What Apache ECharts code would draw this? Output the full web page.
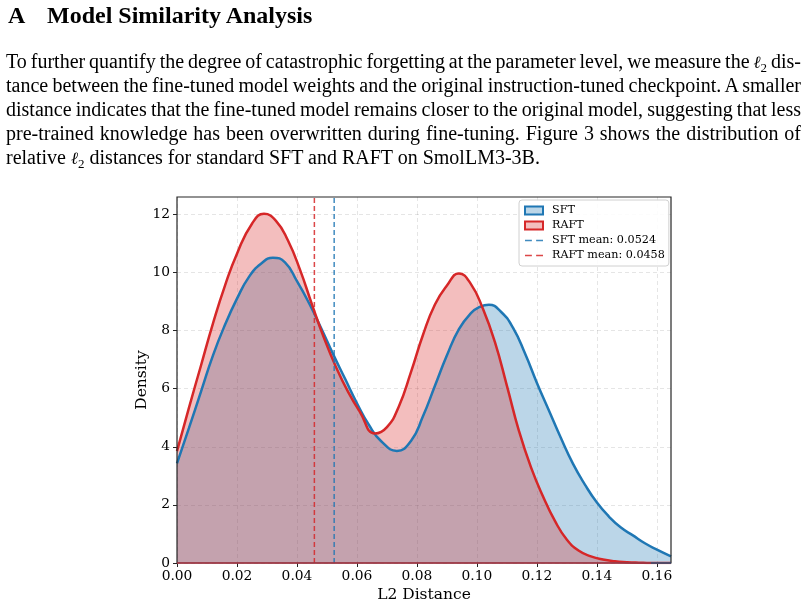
<!DOCTYPE html>
<html>
<head>
<meta charset="utf-8">
<script src="https://cdn.jsdelivr.net/npm/echarts@6/dist/echarts.min.js"></script>
<style>
  html, body { margin: 0; padding: 0; background: #fff; }
  #page { position: relative; width: 808px; height: 608px; overflow: hidden; }
  #chart { position: absolute; left: 0; top: 0; width: 808px; height: 608px; }
  .txt { position: absolute; font-family: "Liberation Serif", "Times New Roman", serif; color: #000; white-space: nowrap; }
  .head { font-size: 24px; font-weight: bold; line-height: 28px; top: 1px; }
  .line { left: 6px; font-size: 20px; line-height: 24px; }
  .ell { font-style: italic; font-family: "DejaVu Serif", serif; font-size: 17px; }
  sub { font-size: 13px; vertical-align: -4px; line-height: 0; }
</style>
</head>
<body>
<div id="page">
  <div id="chart"></div>
  <div class="txt head" style="left:8px;">A</div>
  <div class="txt head" style="left:47px;">Model Similarity Analysis</div>
  <div class="txt line just" style="top:49px;">To further quantify the degree of catastrophic forgetting at the parameter level, we measure the <span class="ell">ℓ</span><sub>2</sub> dis-</div>
  <div class="txt line just" style="top:73px;">tance between the fine-tuned model weights and the original instruction-tuned checkpoint. A smaller</div>
  <div class="txt line just" style="top:97px;">distance indicates that the fine-tuned model remains closer to the original model, suggesting that less</div>
  <div class="txt line just" style="top:121px;">pre-trained knowledge has been overwritten during fine-tuning. Figure 3 shows the distribution of</div>
  <div class="txt line" style="top:145px;">relative <span class="ell">ℓ</span><sub>2</sub> distances for standard SFT and RAFT on SmolLM3-3B.</div>
</div>
<script>
// justify paragraph lines to the text block width
(function () {
  const target = 795;
  document.querySelectorAll('.just').forEach(el => {
    const natural = el.getBoundingClientRect().width;
    const spaces = (el.textContent.match(/ /g) || []).length;
    if (spaces > 0) el.style.wordSpacing = ((target - natural) / spaces) + 'px';
  });
})();

// ---- data ----
const sftDistance = [0, 0.004, 0.008, 0.012, 0.016, 0.020, 0.024, 0.028, 0.032, 0.036, 0.040, 0.044, 0.048, 0.052, 0.056, 0.060, 0.064, 0.068, 0.0733, 0.078, 0.082, 0.086, 0.090, 0.094, 0.098, 0.101, 0.104, 0.108, 0.112, 0.116, 0.120, 0.124, 0.128, 0.132, 0.136, 0.140, 0.144, 0.148, 0.152, 0.156, 0.160, 0.1647];
const sftDensity = [3.43, 4.65, 5.9, 7.15, 8.2, 9.1, 9.85, 10.3, 10.51, 10.35, 9.7, 8.95, 8.1, 7.2, 6.35, 5.5, 4.75, 4.2, 3.86, 4.2, 5.05, 6.1, 7.15, 8.05, 8.6, 8.82, 8.89, 8.65, 8.1, 7.22, 6.2, 5.25, 4.3, 3.42, 2.7, 2.08, 1.6, 1.22, 0.95, 0.68, 0.46, 0.23];
const raftDistance = [0, 0.004, 0.008, 0.012, 0.016, 0.020, 0.025, 0.029, 0.033, 0.037, 0.041, 0.045, 0.049, 0.053, 0.057, 0.061, 0.066, 0.070, 0.074, 0.078, 0.082, 0.086, 0.090, 0.094, 0.098, 0.102, 0.106, 0.110, 0.114, 0.118, 0.122, 0.126, 0.130, 0.134, 0.138, 0.142, 0.146, 0.150, 0.154, 0.158, 0.1647];
const raftDensity = [3.85, 5.35, 6.8, 8.25, 9.55, 10.65, 11.68, 12.02, 11.78, 11.1, 10.1, 8.9, 7.75, 6.75, 5.9, 5.2, 4.46, 4.68, 5.4, 6.57, 7.85, 8.9, 9.55, 9.97, 9.6, 8.75, 7.6, 6.1, 4.55, 3.3, 2.3, 1.45, 0.8, 0.42, 0.23, 0.12, 0.06, 0.03, 0.012, 0.0, 0.0];
const raftEnd = 0.158;
const sftMean = 0.0524;
const raftMean = 0.0458;
const xTicks = [0, 0.02, 0.04, 0.06, 0.08, 0.10, 0.12, 0.14, 0.16];
const yTicks = [0, 2, 4, 6, 8, 10, 12];
const xMax = 0.1647;
const yMax = 12.6;

const BLUE = '#1f77b4', RED = '#d62728';
const FONT = '"DejaVu Serif", serif';
const zip = (xs, ys) => xs.map((x, i) => [x, ys[i]]);
const DASH_ICON = 'path://M0,0h6.5v1.6h-6.5zM10.5,0h6.5v1.6h-6.5z';

const chart = echarts.init(document.getElementById('chart'), null, { renderer: 'canvas' });
const gridColor = 'rgba(0,0,0,0.13)';
chart.setOption({
  animation: false,
  textStyle: { fontFamily: FONT },
  grid: { left: 177, top: 197, width: 494, height: 366, show: true, borderColor: '#262626', borderWidth: 1.2, backgroundColor: 'transparent', z: 5 },
  xAxis: {
    type: 'value', min: 0, max: xMax, interval: 0.02, z: 3,
    name: 'L2 Distance', nameLocation: 'middle', nameGap: 24, nameMoveOverlap: false,
    nameTextStyle: { fontFamily: FONT, fontSize: 15.5, color: '#000' },
    axisLine: { show: false },
    axisTick: { show: true, length: 4, lineStyle: { color: '#262626', width: 1 }, customValues: xTicks },
    axisLabel: { fontFamily: FONT, fontSize: 13.8, color: '#000', margin: 6, customValues: xTicks,
      formatter: v => v.toFixed(2) },
    splitLine: { show: true, lineStyle: { color: gridColor, type: [4, 3], width: 0.8 } }
  },
  yAxis: {
    type: 'value', min: 0, max: yMax, interval: 2, z: 3,
    name: 'Density', nameLocation: 'middle', nameGap: 27, nameRotate: 90, nameMoveOverlap: false,
    nameTextStyle: { fontFamily: FONT, fontSize: 15.5, color: '#000' },
    axisLine: { show: false },
    axisTick: { show: true, length: 4, lineStyle: { color: '#262626', width: 1 }, customValues: yTicks },
    axisLabel: { fontFamily: FONT, fontSize: 13.8, color: '#000', margin: 7, customValues: yTicks },
    splitLine: { show: true, lineStyle: { color: gridColor, type: [4, 3], width: 0.8 } }
  },
  legend: {
    orient: 'vertical', left: 519, top: 200, symbolKeepAspect: true,
    backgroundColor: 'rgba(255,255,255,0.85)', borderColor: '#d0d0d0', borderWidth: 1, borderRadius: 3,
    padding: [4, 4, 4, 5], itemGap: 2, itemWidth: 18, itemHeight: 8,
    textStyle: { fontFamily: FONT, fontSize: 11.2, color: '#000', lineHeight: 13, padding: [0, 0, 0, 4] },
    data: [
      { name: 'SFT', icon: 'rect', itemStyle: { color: 'rgba(31,119,180,0.3)', borderColor: BLUE, borderWidth: 2 } },
      { name: 'RAFT', icon: 'rect', itemStyle: { color: 'rgba(214,39,40,0.3)', borderColor: RED, borderWidth: 2 } },
      { name: 'SFT mean: ' + sftMean.toFixed(4), icon: DASH_ICON, itemStyle: { color: BLUE, opacity: 0.85, borderWidth: 0 } },
      { name: 'RAFT mean: ' + raftMean.toFixed(4), icon: DASH_ICON, itemStyle: { color: RED, opacity: 0.85, borderWidth: 0 } }
    ]
  },
  series: [
    {
      name: 'SFT', type: 'line', data: zip(sftDistance, sftDensity), smooth: 0.5, symbol: 'none',
      lineStyle: { color: BLUE, width: 2.5 }, itemStyle: { color: BLUE },
      areaStyle: { color: BLUE, opacity: 0.3, origin: 0 },
      markLine: { silent: true, symbol: 'none', label: { show: false },
        lineStyle: { color: BLUE, width: 1.5, type: 'solid', opacity: 0.6 },
        data: [[{ coord: [0, 0] }, { coord: [xMax, 0] }]] }
    },
    {
      name: 'RAFT', type: 'line', data: zip(raftDistance, raftDensity), smooth: 0.5, symbol: 'none',
      lineStyle: { color: RED, width: 2.5 }, itemStyle: { color: RED },
      areaStyle: { color: RED, opacity: 0.3, origin: 0 },
      markLine: { silent: true, symbol: 'none', label: { show: false },
        lineStyle: { color: RED, width: 1.5, type: 'solid', opacity: 0.8 },
        data: [[{ coord: [0, 0] }, { coord: [raftEnd, 0] }]] }
    },
    {
      name: 'SFT mean: ' + sftMean.toFixed(4), type: 'line', symbol: 'none',
      data: [[sftMean, 0], [sftMean, yMax]],
      lineStyle: { color: BLUE, width: 1.5, type: [5, 3], opacity: 0.85 }, itemStyle: { color: BLUE }
    },
    {
      name: 'RAFT mean: ' + raftMean.toFixed(4), type: 'line', symbol: 'none',
      data: [[raftMean, 0], [raftMean, yMax]],
      lineStyle: { color: RED, width: 1.5, type: [5, 3], opacity: 0.85 }, itemStyle: { color: RED }
    }
  ]
});
</script>
</body>
</html>
